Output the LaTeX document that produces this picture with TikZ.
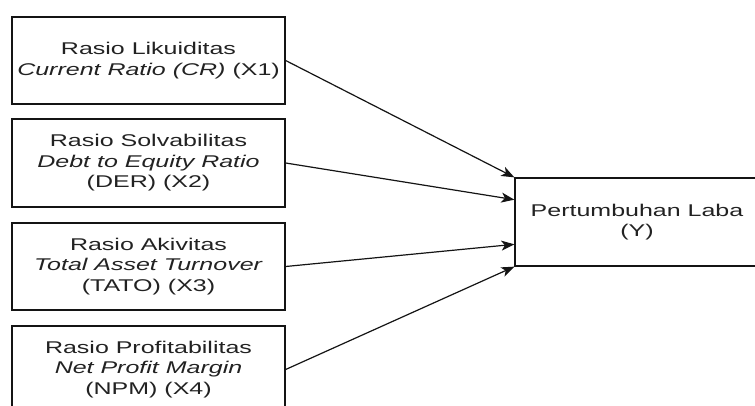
\documentclass[tikz,border=0pt]{standalone}
\usepackage{fontspec}
\setmainfont{Liberation Sans}[FakeStretch=1.47]
\usetikzlibrary{arrows.meta,calc}
\definecolor{txt}{RGB}{34,34,34}
\definecolor{ln}{RGB}{20,20,20}
\begin{document}
\begin{tikzpicture}[x=1pt,y=-1pt,
  varbox/.style={draw=ln,line width=1.3pt,fill=white,align=center,text=txt,
    inner sep=0pt,minimum height=87pt,
    font=\fontsize{17}{20.5}\selectfont},
  link/.style={draw=ln,line width=1.2pt,-{Stealth[length=13pt,width=10pt,inset=3.5pt]}}]
\useasboundingbox (0,0) rectangle (755,406);
\clip (0,0) rectangle (755,406);
\fill[white] (0,0) rectangle (755,406);
\node[varbox,minimum width=273pt] (x1) at (148.5,60.5) {Rasio Likuiditas\\\textit{Current Ratio (CR)} (X1)};
\node[varbox,minimum width=273pt,minimum height=88pt] (x2) at (148.5,163) {Rasio Solvabilitas\\\textit{Debt to Equity Ratio}\\(DER) (X2)};
\node[varbox,minimum width=273pt] (x3) at (148.5,266.5) {Rasio Akivitas\\\textit{Total Asset Turnover}\\(TATO) (X3)};
\node[varbox,minimum width=273pt] (x4) at (148.5,369.5) {Rasio Profitabilitas\\\textit{Net Profit Margin}\\(NPM) (X4)};
\node[varbox,minimum width=244pt,minimum height=88pt] (y) at (637,222) {Pertumbuhan Laba\\(Y)};
\coordinate (p1) at (y.north west);
\coordinate (p2) at ($(y.north west)!0.25!(y.south west)$);
\coordinate (p3) at ($(y.north west)!0.75!(y.south west)$);
\coordinate (p4) at (y.south west);
\draw[link] (x1.east) -- (p1);
\draw[link] (x2.east) -- (p2);
\draw[link] (x3.east) -- (p3);
\draw[link] (x4.east) -- (p4);
\end{tikzpicture}
\end{document}
